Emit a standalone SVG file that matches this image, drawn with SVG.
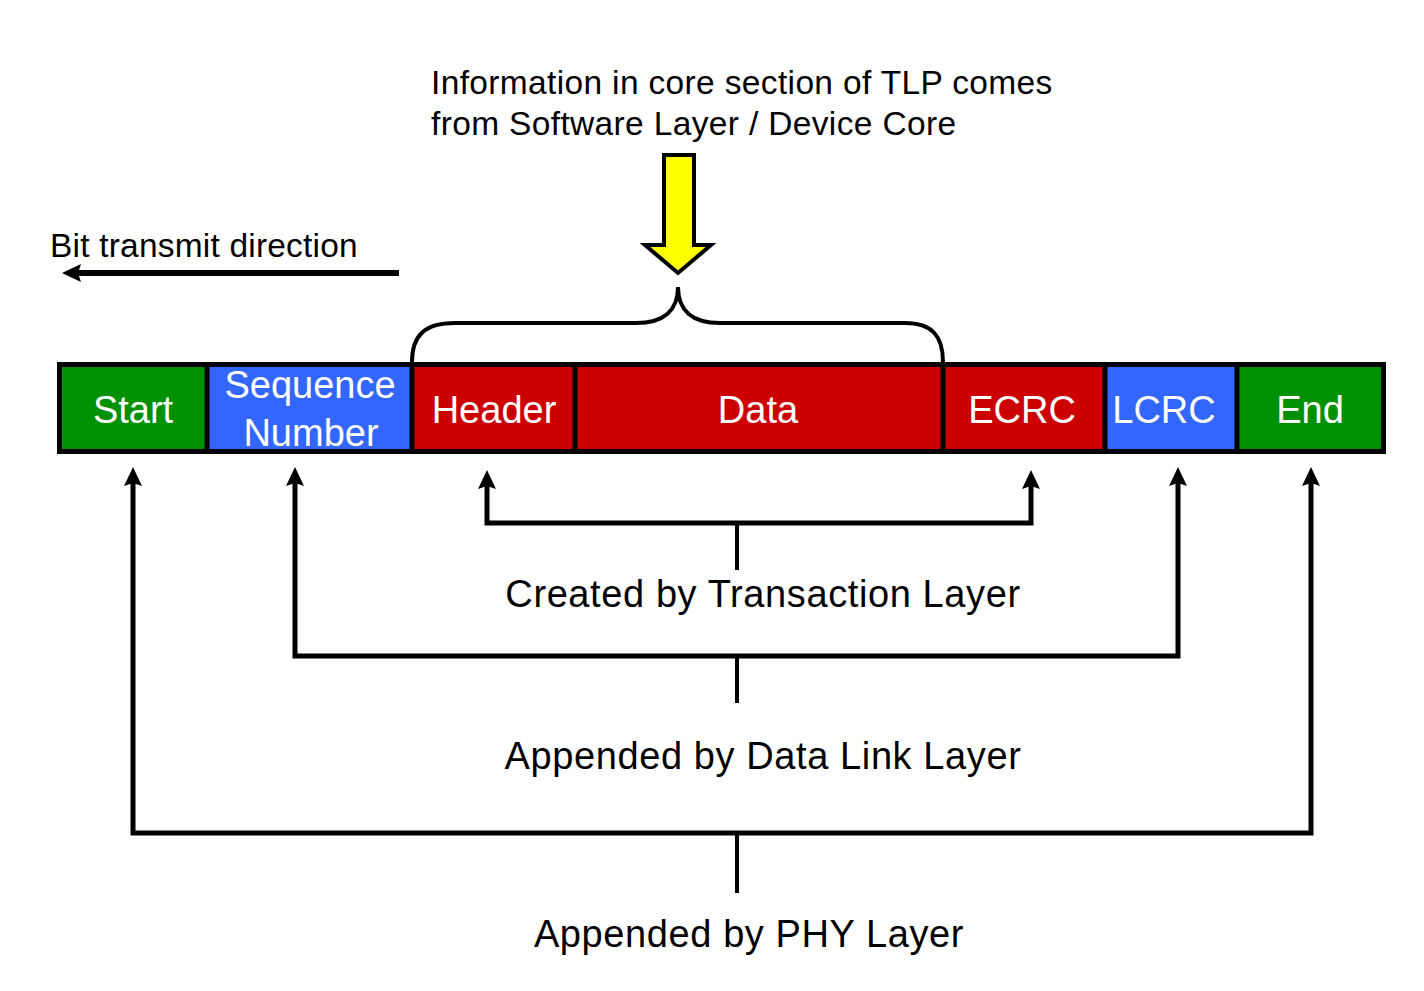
<svg xmlns="http://www.w3.org/2000/svg" width="1424" height="991" viewBox="0 0 1424 991">
<style>
.lbl{font-family:"Liberation Sans",Arial,sans-serif;fill:#000}
.cell{font-family:"Liberation Sans",Arial,sans-serif;fill:#fff;font-size:38px;text-anchor:middle}
.conn{fill:none;stroke:#000;stroke-width:5}
.stem{fill:none;stroke:#000;stroke-width:4}
.div{stroke:#000;stroke-width:5}
</style>
<defs>
<marker id="ah" markerUnits="userSpaceOnUse" markerWidth="20" markerHeight="18" viewBox="0 0 20 18" refX="8" refY="9" orient="auto-start-reverse">
<path d="M0,0 L19,9 L0,18 L3,9 z" fill="#000"/>
</marker>
</defs>
<rect width="1424" height="991" fill="#fff"/>

<g id="top-note">
<text class="lbl" x="431" y="94" font-size="33.5" letter-spacing="0.35">Information in core section of TLP comes</text>
<text class="lbl" x="431" y="135" font-size="33.5" letter-spacing="0.35">from Software Layer / Device Core</text>
</g>

<g id="yellow-arrow">
<polygon points="664,155 694,155 694,245 711,245 678,273 645,245 664,245" fill="#ffff00" stroke="#000" stroke-width="4" stroke-linejoin="miter"/>
</g>

<g id="bit-direction">
<text class="lbl" x="50" y="257" font-size="33.5" letter-spacing="0.2">Bit transmit direction</text>
</g>

<g id="brace">
<path d="M412,362 C412,336 424,323 455,323 L636,323 C664,323 678,310 678,287 C678,310 692,323 720,323 L905,323 C932,323 943,336 943,362" fill="none" stroke="#000" stroke-width="4"/>
</g>

<g id="tlp-bar">
<g id="start"><rect x="57" y="362" width="150" height="92" fill="#009000"/><text class="cell" x="133" y="423">Start</text></g>
<g id="seq"><rect x="207" y="362" width="205" height="92" fill="#3366ff"/><text class="cell" x="310" y="398">Sequence</text><text class="cell" x="311" y="446">Number</text></g>
<g id="header"><rect x="412" y="362" width="163" height="92" fill="#cc0000"/><text class="cell" x="494" y="423">Header</text></g>
<g id="data"><rect x="575" y="362" width="368" height="92" fill="#cc0000"/><text class="cell" x="758" y="423">Data</text></g>
<g id="ecrc"><rect x="943" y="362" width="162" height="92" fill="#cc0000"/><text class="cell" x="1022" y="423">ECRC</text></g>
<g id="lcrc"><rect x="1105" y="362" width="132" height="92" fill="#3366ff"/><text class="cell" x="1164" y="423">LCRC</text></g>
<g id="end"><rect x="1237" y="362" width="149" height="92" fill="#009000"/><text class="cell" x="1310" y="423">End</text></g>
<rect x="59.5" y="364.5" width="1324" height="87" fill="none" stroke="#000" stroke-width="5"/>
<line class="div" x1="207" y1="362" x2="207" y2="454"/>
<line class="div" x1="412" y1="362" x2="412" y2="454"/>
<line class="div" x1="575" y1="362" x2="575" y2="454"/>
<line class="div" x1="943" y1="362" x2="943" y2="454"/>
<line class="div" x1="1105" y1="362" x2="1105" y2="454"/>
<line class="div" x1="1237" y1="362" x2="1237" y2="454"/>
</g>

<g id="labels">
<text class="lbl" x="763" y="607" font-size="38" letter-spacing="0.6" text-anchor="middle">Created by Transaction Layer</text>
<text class="lbl" x="763" y="769" font-size="38" letter-spacing="0.6" text-anchor="middle">Appended by Data Link Layer</text>
<text class="lbl" x="749" y="947" font-size="38" letter-spacing="0.6" text-anchor="middle">Appended by PHY Layer</text>
</g>

<g id="connectors">
<line x1="399" y1="273" x2="73" y2="273" stroke="#000" stroke-width="6" marker-end="url(#ah)"/>
<path class="conn" d="M487,481 L487,523 L1031,523 L1031,481" marker-start="url(#ah)" marker-end="url(#ah)"/>
<line class="stem" x1="737" y1="523" x2="737" y2="570"/>
<path class="conn" d="M295,478 L295,656 L1178,656 L1178,478" marker-start="url(#ah)" marker-end="url(#ah)"/>
<line class="stem" x1="737" y1="656" x2="737" y2="703"/>
<path class="conn" d="M133,478 L133,833 L1311,833 L1311,478" marker-start="url(#ah)" marker-end="url(#ah)"/>
<line class="stem" x1="737" y1="833" x2="737" y2="893"/>
</g>
</svg>
